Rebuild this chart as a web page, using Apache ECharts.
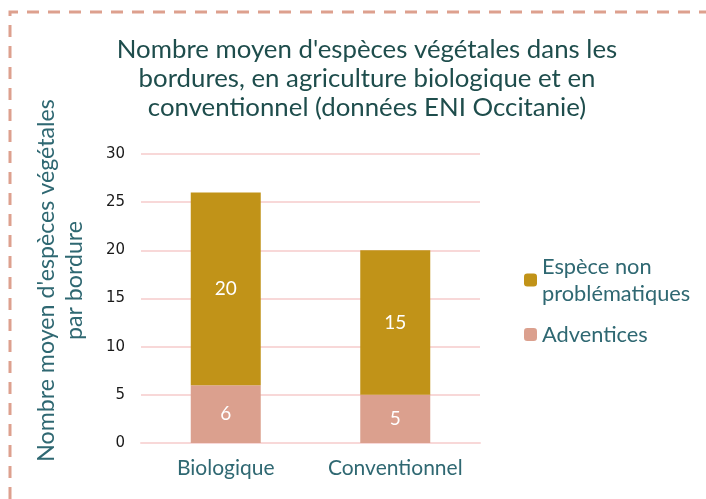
<!DOCTYPE html>
<html><head><meta charset="utf-8">
<script src="https://cdn.jsdelivr.net/npm/echarts@6/dist/echarts.min.js"></script>
<style>html,body{margin:0;padding:0;background:#fff}#c{width:706px;height:499px}</style>
</head><body><div id="c"></div>
<script>
const categories = ['Biologique', 'Conventionnel'];
const adventices = [6, 5];
const nonProblematiques = [20, 15];
const seriesNames = ['Espèce non\nproblématiques', 'Adventices'];
const chart = echarts.init(document.getElementById('c'));
const teal = '#2F6872';
const font = 'Lato, "Open Sans", sans-serif';
chart.setOption({
  animation: false,
  title: {
    text: "Nombre moyen d'espèces végétales dans les\nbordures, en agriculture biologique et en\nconventionnel (données ENI Occitanie)",
    left: 362, top: 30, textAlign: 'center',
    textStyle: {color: '#1E4D4C', fontSize: 25.8, fontWeight: 'normal', lineHeight: 29, fontFamily: font}
  },
  legend: {
    orient: 'vertical', left: 519, top: 248, itemWidth: 13, itemHeight: 13, itemGap: 14,
    data: [seriesNames[0], seriesNames[1]],
    textStyle: {color: teal, fontSize: 21.8, lineHeight: 27, fontFamily: font}
  },
  grid: {left: 141, right: 226, top: 154, bottom: 56, outerBoundsMode: 'none', containLabel: false},
  xAxis: {
    type: 'category', data: categories,
    axisLine: {show: true, lineStyle: {color: '#F8D8D8', width: 2}},
    axisTick: {show: false},
    axisLabel: {color: teal, fontSize: 21, margin: 15, interval: 0, fontFamily: font}
  },
  yAxis: {
    type: 'value', min: 0, max: 30, interval: 5,
    name: "Nombre moyen d'espèces végétales\npar bordure", nameLocation: 'middle', nameGap: 52,
    nameTextStyle: {color: teal, fontSize: 23.2, lineHeight: 28, fontFamily: font, padding: [0, 0, 0, 36]},
    axisLine: {show: false}, axisTick: {show: false},
    axisLabel: {color: '#1a1a1a', fontSize: 15, margin: 16, fontFamily: '"DejaVu Sans", sans-serif'},
    splitLine: {lineStyle: {color: '#F8D8D8', width: 2}}
  },
  series: [
    {name: seriesNames[1], type: 'bar', stack: 's', data: adventices, barWidth: 70,
     itemStyle: {color: '#DBA08E'},
     label: {show: true, position: 'inside', color: '#fff', fontSize: 19, fontFamily: font}},
    {name: seriesNames[0], type: 'bar', stack: 's', data: nonProblematiques, barWidth: 70,
     itemStyle: {color: '#C19318'},
     label: {show: true, position: 'inside', color: '#fff', fontSize: 19, fontFamily: font}}
  ],
  graphic: [{
    type: 'polyline', silent: true,
    shape: {points: [[10, 499], [10, 12], [706, 12]]},
    style: {stroke: '#DDA08E', lineWidth: 3, fill: null, lineDash: [12, 9]}
  }]
});
</script></body></html>
